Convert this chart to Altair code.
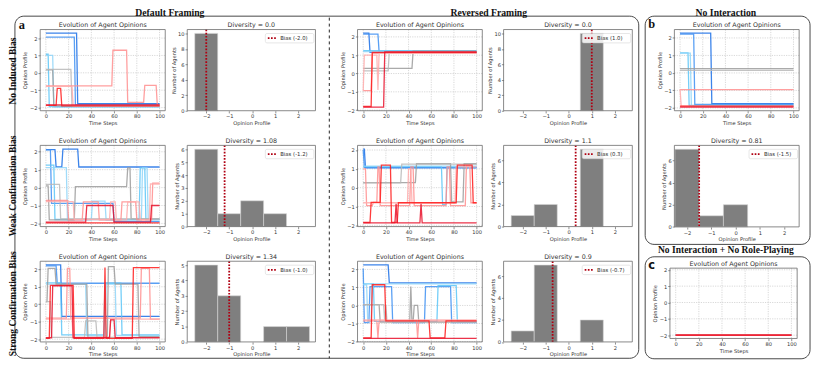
import altair as alt
import pandas as pd

# ---------------- data ----------------
AGENTS = ["a0", "a1", "a2", "a3", "a4", "a5", "a6", "a7", "a8", "a9"]
AGENT_COLORS = ["#1a6fe6", "#3d8ff2", "#5cc6f7", "#8fd5f8", "#9b9b9b",
                "#b8b8b8", "#ff8e8e", "#ffabab", "#ff1a1a", "#e8102a"]

TIME_TICKS = [0, 20, 40, 60, 80, 100]
OPINION_TICKS = [-2, -1, 0, 1, 2]
BIN_CENTERS = [-2, -1, 0, 1, 2]

# opinion trajectories: per agent, (time step, opinion) change points
traj_none_default = [
    [(0, 2.28), (28, -1.78)],
    [(0, 2.06), (26, -1.84)],
    [(0, 1.07), (3, -1.95)],
    [(0, 1.0), (7, -1.97)],
    [(0, 0.17), (7, -1.9)],
    [(0, 0.2), (23, -1.92)],
    [(0, -0.75), (59, 1.3), (72, -1.7), (87, -0.72), (98, -1.85)],
    [(0, -0.78), (24, -1.9)],
    [(0, -1.88), (10, -0.9), (14, -1.9)],
    [(0, -1.85)],
]
traj_none_reversed = [
    [(0, 2.2), (6, 1.15)],
    [(0, 2.15), (14, 1.18)],
    [(0, 1.25)],
    [(0, 1.2)],
    [(0, 0.28), (44, 1.22)],
    [(0, 0.15), (23, 1.2)],
    [(0, -0.93), (8, 1.1)],
    [(0, -0.95), (1, 1.0), (13, -0.9), (14, 1.1)],
    [(0, -1.8), (8, 1.15)],
    [(0, -1.83), (19, 1.18)],
]
traj_weak_default = [
    [(0, 2.12), (9, 1.15), (15, 2.15), (29, 1.15)],
    [(0, 2.1), (5, -0.88), (60, -1.9)],
    [(0, 1.25), (8, -1.78), (83, 1.1), (88, -1.8)],
    [(0, 1.12), (19, -1.8), (41, -0.75), (53, -1.82), (85, 1.1), (90, -1.75)],
    [(0, 0.1), (3, -1.8), (26, 0.05), (72, 1.1), (75, -1.75)],
    [(0, 0.18), (13, -1.75)],
    [(0, -0.72), (20, -1.8), (33, -0.8), (47, -1.8), (67, -0.8), (80, -1.8), (94, 0.25)],
    [(0, -0.78), (25, -1.78), (57, -0.8), (62, -1.8), (72, -0.8), (83, -1.8), (92, 0.2)],
    [(0, -1.97)],
    [(0, -1.93), (36, -1.0), (60, -1.93), (93, -1.0)],
]
traj_weak_reversed = [
    [(0, 2.05), (2, 1.05)],
    [(0, 2.0), (1, 1.08)],
    [(0, 1.12), (70, -0.9), (74, 1.1)],
    [(0, 1.15)],
    [(0, 0.27), (47, 1.27), (78, -0.75), (89, 1.27)],
    [(0, 0.25), (34, 1.25)],
    [(0, 1.0), (3, -0.95), (9, -0.78), (13, 1.1), (15, -0.95), (42, 1.1), (45, -0.95),
     (74, 1.1), (77, -0.95), (91, 1.15), (95, -0.8)],
    [(0, -0.8), (40, 1.0), (43, -0.8), (82, 1.1)],
    [(0, -1.85), (7, -0.78), (16, 1.2), (25, -1.85), (31, -0.8), (83, 1.2), (97, -0.8)],
    [(0, -1.87), (29, -0.85), (30, -1.87), (51, -0.85), (52, -1.87)],
]
traj_strong_default = [
    [(0, 2.25), (14, -0.7)],
    [(0, 2.2), (10, 1.2)],
    [(0, 1.22), (14, -1.75), (52, 1.2), (67, -1.75)],
    [(0, 1.15), (36, -1.8), (53, 1.15), (62, -1.78)],
    [(0, 0.15), (2, 2.05), (9, 1.15), (37, -1.9), (55, 2.15), (61, 1.15), (82, -1.85)],
    [(0, 0.15), (5, -1.9), (35, -0.95), (45, -1.9)],
    [(0, -0.8), (19, 2.05), (22, -0.8), (84, 2.05), (92, -0.85)],
    [(0, -0.85), (24, -1.9), (57, -0.85)],
    [(0, -1.95), (4, 1.08), (25, -1.95), (52, 2.1), (53, -1.95), (77, 2.1)],
    [(0, -1.92), (6, 1.05), (24, -1.92), (57, -0.9), (61, -1.92)],
]
traj_strong_reversed = [
    [(0, 2.25), (23, 1.25)],
    [(0, 2.05), (1, -0.95), (6, 1.05), (26, -0.95), (55, 1.05), (78, -0.95)],
    [(0, 1.2), (10, -0.88), (66, 1.1), (83, -0.88)],
    [(0, 1.15), (4, -0.9), (8, 1.2)],
    [(0, 0.05), (15, -0.92), (42, 1.05), (43, -0.92), (45, 0.0), (49, -0.92)],
    [(0, 0.05), (19, -0.9), (20, 0.0), (21, -0.92)],
    [(0, -0.85), (13, -1.8), (14, -0.85), (48, -1.8), (49, -0.85)],
    [(0, -0.8)],
    [(0, -1.8), (8, 1.15), (20, -0.85), (59, -1.8), (73, -0.85)],
    [(0, -1.82)],
]
traj_no_interaction = [
    [(0, 2.27), (28, -1.75)],
    [(0, 2.22), (13, -1.8)],
    [(0, 1.15), (8, -1.85)],
    [(0, 1.13), (10, -1.9)],
    [(0, 0.25)],
    [(0, 0.15)],
    [(0, -0.95)],
    [(0, -0.93), (1, -1.9)],
    [(0, -1.9)],
    [(0, -1.95)],
]
traj_no_roleplay = [
    [(0, -2.0)], [(0, -2.0)], [(0, -2.0)], [(0, -2.0)], [(0, -2.0)],
    [(0, -2.0)], [(0, -2.0)], [(0, -2.0)], [(0, -2.0)], [(0, -2.0)],
]

# histograms (agents per opinion bin -2..2)
counts_none_default = [10, 0, 0, 0, 0]
counts_none_reversed = [0, 0, 0, 10, 0]
counts_weak_default = [6, 1, 2, 1, 0]
counts_weak_reversed = [1, 2, 0, 7, 0]
counts_strong_default = [5, 3, 0, 1, 1]
counts_strong_reversed = [1, 7, 0, 2, 0]
counts_no_interaction = [7, 1, 2, 0, 0]

bias_values = {"nd": -2.0, "nr": 1.0, "wd": -1.2, "wr": 0.3, "sd": -1.0, "sr": -0.7, "ni": -1.5}
diversity_values = {"nd": "0.0", "nr": "0.0", "wd": "1.08", "wr": "1.1", "sd": "1.34", "sr": "0.9", "ni": "0.81"}
count_ticks = {"nd": [0, 2, 4, 6, 8, 10], "nr": [0, 2, 4, 6, 8, 10], "wd": [0, 1, 2, 3, 4, 5, 6],
               "wr": [0, 2, 4, 6], "sd": [0, 1, 2, 3, 4, 5], "sr": [0, 2, 4, 6], "ni": [0, 2, 4, 6]}

column_titles = ["Default Framing", "Reversed Framing", "No Interaction", "No Interaction + No Role-Playing"]
row_titles = ["No Induced Bias", "Weak Confirmation Bias", "Strong Confirmation Bias"]
panel_letters = ["a", "b", "c"]

# ---------------- layout helpers ----------------
W, H = 822, 361
SANS = "DejaVu Sans"
SERIF = "Liberation Serif"

ONE = pd.DataFrame({"k": [0]})


def deco_rect(x0, y0, x1, y1, **kw):
    return alt.Chart(ONE).mark_rect(**kw).encode(
        x=alt.value(x0), x2=alt.value(x1), y=alt.value(y0), y2=alt.value(y1))


def deco_vrule(x, y0, y1, **kw):
    return alt.Chart(ONE).mark_rule(**kw).encode(
        x=alt.value(x), y=alt.value(y0), y2=alt.value(y1))


def label(text, x, y, size, **kw):
    return alt.Chart(pd.DataFrame({"s": [text]})).mark_text(fontSize=size, **kw).encode(
        x=alt.value(x), y=alt.value(y), text="s:N")


def expand(traj):
    rows = []
    for i, bps in enumerate(traj):
        for t in range(101):
            v = [b[1] for b in bps if b[0] <= t][-1]
            rows.append({"agent": AGENTS[i], "t": t, "v": v})
    return pd.DataFrame(rows)


def line_plot(traj, x0, x1, y0, y1, ydom=None):
    df = expand(traj)
    if ydom is None:
        lo, hi = df.v.min(), df.v.max()
        m = 0.05 * (hi - lo)
        ydom = [lo - m, hi + m]
    xs = alt.Scale(domain=[-5, 105], range=[x0, x1], nice=False, zero=False)
    ys = alt.Scale(domain=ydom, range=[y1, y0], nice=False, zero=False)
    xaxis = alt.Axis(orient="bottom", offset=y1 - H, values=TIME_TICKS, title="Time Steps")
    yaxis = alt.Axis(orient="left", offset=-x0, values=OPINION_TICKS, title="Opinion Profile")
    grid_style = dict(color="#bdbdbd", strokeWidth=0.6, strokeDash=[1.2, 1.2])
    gx = alt.Chart(pd.DataFrame({"t": TIME_TICKS})).mark_rule(**grid_style).encode(
        x=alt.X("t:Q", scale=xs, axis=xaxis), y=alt.value(y0), y2=alt.value(y1))
    gy = alt.Chart(pd.DataFrame({"v": OPINION_TICKS})).mark_rule(**grid_style).encode(
        y=alt.Y("v:Q", scale=ys, axis=yaxis), x=alt.value(x0), x2=alt.value(x1))
    ln = alt.Chart(df).mark_line(strokeWidth=1.3, opacity=0.85).encode(
        x=alt.X("t:Q", scale=xs, axis=xaxis),
        y=alt.Y("v:Q", scale=ys, axis=yaxis),
        color=alt.Color("agent:N", scale=alt.Scale(domain=AGENTS, range=AGENT_COLORS), legend=None))
    fr = deco_rect(x0, y0, x1, y1, fill="white", fillOpacity=0, stroke="#6b6b6b", strokeWidth=0.8)
    ttl = label("Evolution of Agent Opinions", (x0 + x1) / 2, y0 - 1.2, 6.4,
                font=SANS, baseline="bottom", color="#333")
    return alt.layer(gx, gy, ln, fr, ttl)


def hist_plot(key, counts, x0, x1, y0, y1, xdom):
    df = pd.DataFrame({"lo": [c - 0.5 for c in BIN_CENTERS],
                       "hi": [c + 0.5 for c in BIN_CENTERS], "n": counts})
    df = df[df.n > 0]
    ymax = max(counts) * 1.05
    bias = bias_values[key]
    xs = alt.Scale(domain=xdom, range=[x0, x1], nice=False, zero=False)
    ys = alt.Scale(domain=[0, ymax], range=[y1, y0], nice=False, zero=False)
    xaxis = alt.Axis(orient="bottom", offset=y1 - H, values=BIN_CENTERS, title="Opinion Profile")
    yaxis = alt.Axis(orient="left", offset=-x0, values=count_ticks[key], title="Number of Agents")
    bars = alt.Chart(df).mark_rect(fill="#7f7f7f", stroke="#d4d4d4", strokeWidth=0.6).encode(
        x=alt.X("lo:Q", scale=xs, axis=xaxis), x2="hi:Q",
        y=alt.Y("n:Q", scale=ys, axis=yaxis), y2=alt.Y2(datum=0))
    rule = alt.Chart(pd.DataFrame({"b": [bias]})).mark_rule(
        color="#b00012", strokeWidth=1.8, strokeDash=[1.7, 1.5]).encode(
        x=alt.X("b:Q", scale=xs, axis=xaxis), y=alt.value(y0), y2=alt.value(y1))
    fr = deco_rect(x0, y0, x1, y1, fill="white", fillOpacity=0, stroke="#6b6b6b", strokeWidth=0.8)
    lx1 = x1 - 1.6
    lx0 = lx1 - 49
    ly0, ly1 = y0 + 4, y0 + 13.5
    lbox = deco_rect(lx0, ly0, lx1, ly1, fill="white", fillOpacity=0.85, stroke="#cfcfcf",
                     strokeWidth=0.5, cornerRadius=1.5)
    lsample = alt.Chart(ONE).mark_rule(color="#b00012", strokeWidth=1.8, strokeDash=[1.7, 1.5]).encode(
        x=alt.value(lx0 + 2.5), x2=alt.value(lx0 + 12), y=alt.value((ly0 + ly1) / 2))
    ltext = label(f"Bias ({bias})", lx0 + 15, (ly0 + ly1) / 2, 5.4, font=SANS, align="left",
                  baseline="middle", color="#333")
    ttl = label(f"Diversity = {diversity_values[key]}", (x0 + x1) / 2, y0 - 1.2, 6.4,
                font=SANS, baseline="bottom", color="#333")
    return alt.layer(bars, rule, fr, lbox, lsample, ltext, ttl)


# ---------------- subplot frames ----------------
ROWS = [(28, 110), (145, 227), (262, 343.5)]
C_LINE_D = (40.5, 166.8)
C_HIST_D = (189, 318.5)
C_LINE_R = (361, 487)
C_HIST_R = (508.5, 638.5)
HIST_DOM = [-2.83, 2.76]

layers = []

# panel borders and separators (behind)
layers.append(deco_rect(15, 14.5, 645, 360, fill="white", fillOpacity=0, stroke="#333",
                        strokeWidth=0.9, cornerRadius=9))
layers.append(deco_rect(651.5, 14.5, 818, 245, fill="white", fillOpacity=0, stroke="#333",
                        strokeWidth=0.9, cornerRadius=9))
layers.append(deco_rect(651.5, 257.5, 818, 360.5, fill="white", fillOpacity=0, stroke="#333",
                        strokeWidth=0.9, cornerRadius=9))
layers.append(deco_vrule(332.5, 16, 360, color="#222", strokeWidth=1, strokeDash=[3, 3]))

trajs = [(traj_none_default, traj_none_reversed),
         (traj_weak_default, traj_weak_reversed),
         (traj_strong_default, traj_strong_reversed)]
hists = [(("nd", counts_none_default), ("nr", counts_none_reversed)),
         (("wd", counts_weak_default), ("wr", counts_weak_reversed)),
         (("sd", counts_strong_default), ("sr", counts_strong_reversed))]

for (y0, y1), (td, tr), ((kd, cd), (kr, cr)) in zip(ROWS, trajs, hists):
    layers.append(line_plot(td, C_LINE_D[0], C_LINE_D[1], y0, y1))
    layers.append(hist_plot(kd, cd, C_HIST_D[0], C_HIST_D[1], y0, y1, HIST_DOM))
    layers.append(line_plot(tr, C_LINE_R[0], C_LINE_R[1], y0, y1))
    layers.append(hist_plot(kr, cr, C_HIST_R[0], C_HIST_R[1], y0, y1, HIST_DOM))

layers.append(line_plot(traj_no_interaction, 681, 807, 28, 110))
layers.append(hist_plot("ni", counts_no_interaction, 681, 807, 145, 227.3, [-2.52, 2.62]))
layers.append(line_plot(traj_no_roleplay, 676.5, 805, 269, 340, ydom=[-2.2, 2.1]))

# headers, row labels, panel letters
hdr = dict(font=SERIF, fontWeight="bold", color="#111")
layers.append(label(column_titles[0], 171.5, 11.5, 9.8, **hdr))
layers.append(label(column_titles[1], 493.5, 11.5, 9.8, **hdr))
layers.append(label(column_titles[2], 733, 11.5, 9.8, **hdr))
layers.append(label(column_titles[3], 733, 251, 9.6, **hdr))
for txt, yc in zip(row_titles, [70, 186, 305]):
    layers.append(label(txt, 13, yc, 9.6, angle=270, **hdr))
layers.append(label(panel_letters[0], 22, 23, 12.5, **hdr))
layers.append(label(panel_letters[1], 658, 22, 12.5, **hdr))
layers.append(label(panel_letters[2], 658, 266.5, 11.5, font=SANS, fontWeight="bold", color="#111"))

chart = alt.layer(*layers).resolve_scale(x="independent", y="independent").properties(
    width=W, height=H,
    padding={"left": -8, "right": 0, "top": -8, "bottom": 0},
    autosize=alt.AutoSizeParams(type="none"),
    background="white",
).configure_view(stroke=None).configure_axis(
    labelFont=SANS, labelFontSize=5.2, labelColor="#333", labelPadding=1,
    tickSize=2.2, tickColor="#444", tickWidth=0.6,
    titleFont=SANS, titleFontSize=5.2, titleFontWeight="normal", titleColor="#333",
    titlePadding=1.5, grid=False, domain=False, labelFlush=False,
)

chart.save("out.html", embed_options={"renderer": "svg", "actions": False})
